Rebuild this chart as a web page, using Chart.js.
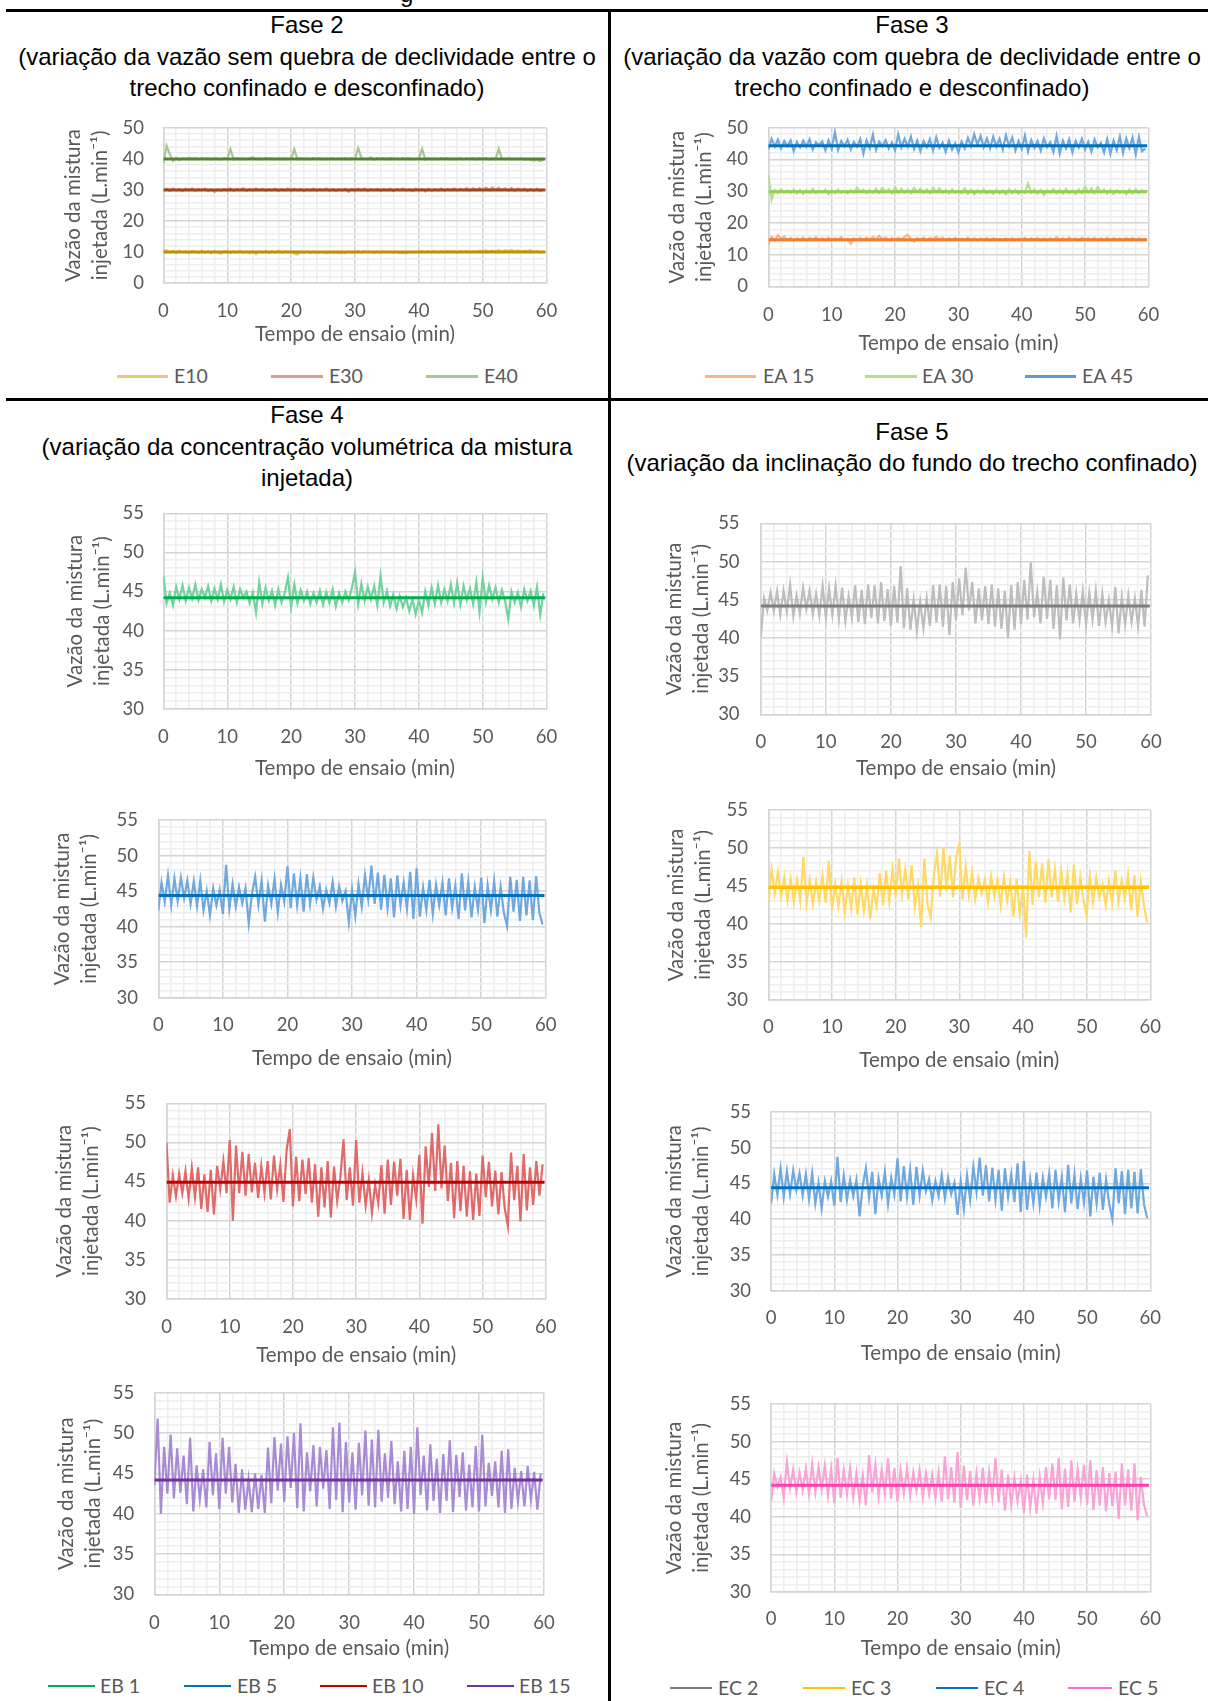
<!DOCTYPE html>
<html>
<head>
<meta charset="utf-8">
<script src="https://cdn.jsdelivr.net/npm/chart.js@4.4.1/dist/chart.umd.min.js"></script>
<style>
    body { margin: 0; width: 1208px; height: 1701px; position: relative; overflow: hidden; background: #fff; font-family: "Liberation Sans", Arial, sans-serif; }
    .traco { position: absolute; background: #000; }
    .cab { position: absolute; transform: translate(-50%, -50%); white-space: nowrap; font-size: 24px; line-height: 1; color: #000; }
    canvas { position: absolute; }
    .leg-linha { position: absolute; }
    .leg-texto { position: absolute; transform: translateY(-50%); font-family: Lato, sans-serif; font-size: 19.5px; line-height: 1; color: #595959; white-space: nowrap; }
    #recorte { position: absolute; left: 396px; top: 0; width: 30px; height: 8px; overflow: hidden; }
    #recorte span { position: absolute; left: 4px; bottom: 2px; font-size: 24px; line-height: 1; }
</style>
</head>
<body>
<div id="recorte"><span>g</span></div>
<div class="traco" style="left:6px;top:9px;width:1202px;height:3px"></div>
<div class="traco" style="left:6px;top:398px;width:1202px;height:3px"></div>
<div class="traco" style="left:608px;top:10px;width:3px;height:1691px"></div>

<div class="cab" style="left:307px;top:25px">Fase 2</div>
<div class="cab" style="left:307px;top:57px">(variação da vazão sem quebra de declividade entre o</div>
<div class="cab" style="left:307px;top:88px">trecho confinado e desconfinado)</div>
<div class="cab" style="left:912px;top:25px">Fase 3</div>
<div class="cab" style="left:912px;top:57px">(variação da vazão com quebra de declividade entre o</div>
<div class="cab" style="left:912px;top:88px">trecho confinado e desconfinado)</div>
<div class="cab" style="left:307px;top:415px">Fase 4</div>
<div class="cab" style="left:307px;top:447px">(variação da concentração volumétrica da mistura</div>
<div class="cab" style="left:307px;top:478px">injetada)</div>
<div class="cab" style="left:912px;top:432px">Fase 5</div>
<div class="cab" style="left:912px;top:463px">(variação da inclinação do fundo do trecho confinado)</div>

<script>
// tempo de ensaio (min), amostras lidas a cada 0,5 min
const tempo = [0,0.5,1,1.5,2,2.5,3,3.5,4,4.5,5,5.5,6,6.5,7,7.5,8,8.5,9,9.5,
    10,10.5,11,11.5,12,12.5,13,13.5,14,14.5,15,15.5,16,16.5,17,17.5,18,18.5,19,19.5,
    20,20.5,21,21.5,22,22.5,23,23.5,24,24.5,25,25.5,26,26.5,27,27.5,28,28.5,29,29.5,
    30,30.5,31,31.5,32,32.5,33,33.5,34,34.5,35,35.5,36,36.5,37,37.5,38,38.5,39,39.5,
    40,40.5,41,41.5,42,42.5,43,43.5,44,44.5,45,45.5,46,46.5,47,47.5,48,48.5,49,49.5,
    50,50.5,51,51.5,52,52.5,53,53.5,54,54.5,55,55.5,56,56.5,57,57.5,58,58.5,59,59.5];
const tempoMedia = [0, 59.8];
const marcasX = [0, 10, 20, 30, 40, 50, 60];
const marcasY0a50 = [0, 10, 20, 30, 40, 50];
const marcasY30a55 = [30, 35, 40, 45, 50, 55];

// Fase 2
const nomesFase2 = ['E10', 'E30', 'E40'];
const e10 = [
    10.3,10.6,9.8,10.4,9.7,10.5,9.9,10.2,9.6,10.4,
    10.1,9.7,10.5,9.8,10.3,9.6,10.4,9.9,9.5,10.3,
    10.2,9.7,10.3,9.9,10.4,9.8,10.1,9.6,10.3,9.3,
    10.2,9.8,10.4,9.7,10.3,9.9,10.5,9.8,10.2,9.9,
    10.3,9.5,9.2,10.1,9.8,10.2,9.7,10.1,9.6,9.9,
    10.1,9.6,9.9,9.7,10.0,9.6,9.9,9.7,10.1,9.8,
    10.0,10.3,9.8,10.2,9.9,10.1,9.7,10.2,9.8,10.1,
    9.9,10.2,9.8,10.1,9.6,9.9,9.6,10.0,9.8,10.1,
    10.1,10.3,9.9,10.2,10.0,10.3,9.9,10.2,10.0,10.3,
    10.1,10.4,9.9,10.3,10.1,10.4,10.0,10.3,10.1,10.5,
    10.2,10.6,10.0,10.5,10.2,10.7,10.1,10.6,10.3,10.7,
    10.2,10.6,10.1,10.5,10.3,10.6,10.0,10.3,9.9,10.2];
const e30 = [
    29.8,30.4,29.7,30.5,29.8,30.3,29.6,30.4,29.9,30.5,
    29.7,30.3,29.9,30.4,29.6,30.2,29.3,30.1,29.7,30.3,
    29.8,30.5,29.7,30.4,29.9,30.6,29.7,30.3,29.8,30.5,
    29.9,30.4,29.7,30.2,29.8,30.4,29.6,30.3,29.8,30.5,
    29.7,30.4,29.8,30.3,29.6,30.2,29.8,30.4,29.7,30.3,
    29.8,30.5,29.7,30.3,29.6,30.2,29.8,30.4,29.4,30.3,
    29.7,30.4,29.8,30.5,29.6,30.3,29.9,30.4,29.7,30.3,
    29.8,30.4,29.6,30.3,29.9,30.5,29.7,30.2,29.6,30.4,
    29.8,30.3,29.5,30.4,29.7,30.3,29.8,30.5,29.7,30.4,
    29.9,30.5,29.8,30.4,29.9,30.6,29.8,30.5,29.9,30.6,
    30.0,30.7,29.9,30.8,30.1,30.7,29.9,30.5,29.8,30.6,
    29.7,30.5,29.8,30.4,29.6,30.3,29.7,30.4,29.6,30.2];
const e40 = [
    38.5,44.2,41.5,39.3,40.2,39.6,40.1,39.8,40.3,39.9,
    40.2,39.8,40.1,39.9,40.2,39.8,40.1,40.0,39.8,40.1,
    40.0,43.1,39.8,40.2,39.9,40.1,39.8,40.2,40.5,39.9,
    40.1,39.8,40.2,39.9,40.1,39.8,40.2,39.9,40.1,39.9,
    40.1,43.0,39.8,40.2,39.9,40.1,39.8,40.2,39.9,40.1,
    39.8,40.1,39.9,40.2,39.8,40.1,39.9,40.2,39.8,40.1,
    40.0,43.5,40.3,39.9,40.1,40.4,39.8,40.2,39.9,40.1,
    39.8,40.2,39.9,40.1,39.8,40.2,39.9,40.1,39.8,40.0,
    40.1,43.2,39.8,40.2,39.9,40.1,39.8,40.2,39.9,40.1,
    39.8,40.1,39.9,40.2,39.8,40.1,39.9,40.2,39.8,40.1,
    39.9,40.2,39.8,40.1,39.9,43.2,40.0,39.8,40.1,39.9,
    40.0,39.8,40.1,39.7,39.9,39.6,39.4,39.7,39.3,39.6];
const mediasFase2 = [10, 30, 39.9];

// Fase 3
const nomesFase3 = ['EA 15', 'EA 30', 'EA 45'];
const ea15 = [
    13.2,15.6,14.5,16.2,15.1,15.8,14.6,15.3,14.4,15.2,
    14.7,15.4,14.5,15.3,14.8,15.5,14.6,15.2,14.7,15.4,
    14.5,15.2,14.8,15.5,14.6,15.0,13.4,15.1,14.6,15.3,
    14.7,15.4,14.6,15.6,14.8,16.0,14.9,15.4,14.6,15.2,
    14.7,15.3,14.8,15.6,16.3,14.9,14.1,15.2,14.7,15.4,
    14.6,15.3,14.9,15.7,14.8,15.4,14.6,15.2,14.7,15.3,
    14.5,15.1,14.7,15.3,14.6,15.2,14.5,15.1,14.7,15.2,
    14.6,15.2,14.7,15.0,14.5,15.1,14.7,15.2,14.6,15.1,
    14.7,15.3,14.6,15.2,14.8,15.3,14.6,15.1,14.5,15.2,
    14.6,15.5,14.7,15.2,14.6,15.4,14.7,15.1,14.6,15.3,
    14.7,15.2,14.8,15.3,14.6,15.2,14.7,15.3,14.6,15.2,
    14.7,15.1,14.6,15.2,14.8,15.3,14.6,15.2,14.7,15.1];
const ea30 = [
    35.2,27.3,30.4,29.4,30.6,29.6,30.3,29.5,30.5,29.3,
    30.4,29.2,30.3,29.5,30.7,29.4,30.2,29.6,30.5,29.1,
    30.3,29.4,30.6,29.5,30.2,29.3,30.4,29.6,31.2,29.8,
    30.5,29.4,30.3,29.6,30.8,29.5,31.0,29.7,30.6,29.3,
    31.3,29.5,30.8,29.6,30.5,29.4,31.0,29.7,30.8,29.5,
    30.6,29.4,31.1,29.7,30.9,29.5,30.4,29.3,30.6,29.5,
    30.2,29.4,30.9,29.2,30.4,29.0,30.3,29.4,30.6,29.3,
    30.2,29.1,30.5,29.3,30.3,29.0,30.6,29.4,30.4,29.2,
    30.1,29.5,32.4,29.6,30.5,29.2,30.4,28.8,30.3,29.5,
    30.6,29.3,30.4,29.2,30.7,29.4,30.3,29.1,30.6,29.4,
    31.5,29.6,30.9,29.4,31.3,29.6,30.6,29.3,30.4,29.1,
    30.3,29.4,30.2,29.0,30.5,29.3,30.6,29.4,30.3,29.6];
const ea45 = [
    43.2,46.5,44.0,46.2,43.5,45.8,44.2,46.0,42.6,45.5,
    43.8,45.9,44.1,46.3,43.1,45.4,44.5,45.7,42.9,46.0,
    43.4,48.6,43.0,45.8,44.1,46.2,43.2,45.5,44.0,46.4,
    41.8,46.0,43.5,47.8,43.0,45.6,44.2,46.1,43.4,45.3,
    42.9,47.9,43.8,46.5,44.0,47.2,43.3,46.0,42.6,45.8,
    43.9,46.4,42.8,47.0,43.6,45.3,42.4,45.9,43.1,45.1,
    42.2,45.6,43.5,46.8,44.2,47.9,44.6,47.4,43.8,46.6,
    43.5,47.2,44.0,46.5,43.1,47.6,44.2,46.9,42.8,45.8,
    43.3,47.5,42.5,46.1,43.6,45.8,42.8,46.6,43.9,45.4,
    42.4,47.4,41.9,45.9,43.5,46.3,42.2,45.8,43.7,46.5,
    43.1,45.6,42.5,46.3,43.8,45.2,42.2,46.4,41.8,45.9,
    43.0,47.2,42.1,46.6,43.5,46.9,41.7,47.1,42.6,43.5];
const mediasFase3 = [14.75, 29.8, 44.3];

// Fase 4
const nomesFase4 = ['EB 1', 'EB 5', 'EB 10', 'EB 15'];
const eb1 = [
    47.0,43.5,44.8,43.2,45.6,44.0,45.8,43.8,45.5,44.1,
    45.9,43.9,45.3,44.2,45.7,43.8,45.4,44.0,45.9,43.7,
    45.2,44.0,45.6,43.6,45.3,44.2,45.0,43.5,44.9,42.3,
    46.2,43.4,45.5,43.8,45.1,43.2,45.3,43.6,44.8,46.8,
    43.0,45.9,43.5,45.2,43.8,45.0,43.4,44.8,43.6,45.1,
    43.3,44.9,43.5,45.3,43.1,44.8,43.6,45.0,43.9,45.4,
    47.5,43.4,46.0,43.8,45.6,44.0,45.7,43.2,47.0,43.6,
    45.1,43.1,44.6,42.8,44.4,43.0,44.2,42.5,44.0,42.1,
    43.9,42.3,45.0,43.2,45.5,43.4,45.8,43.6,45.3,43.8,
    45.9,43.5,46.1,43.3,45.7,43.9,45.4,43.4,46.2,42.4,
    46.7,43.7,45.8,44.0,45.5,43.6,45.2,43.8,41.5,45.0,
    43.6,44.9,43.0,45.3,43.8,45.1,43.2,45.6,42.0,44.8];
const eb5 = [
    42.3,46.2,43.5,47.2,43.0,46.8,43.6,46.9,44.0,46.5,
    43.2,46.4,42.9,46.5,42.3,45.0,41.6,45.4,43.0,45.2,
    41.8,48.7,42.5,46.0,42.8,45.6,43.3,45.4,40.5,44.6,
    47.0,43.1,46.5,40.7,45.8,43.2,46.7,42.0,45.9,43.5,
    48.5,42.6,47.5,43.0,46.8,42.1,47.4,43.2,46.9,43.8,
    45.7,42.5,45.2,43.3,46.3,42.8,45.7,43.6,45.0,40.6,
    45.2,41.5,46.0,42.8,47.2,43.9,48.6,43.2,47.6,42.4,
    47.3,42.6,46.8,41.3,47.2,43.0,46.2,42.5,47.7,41.1,
    48.2,41.4,45.5,42.3,46.6,41.8,45.9,43.0,46.2,41.6,
    46.8,42.6,45.8,41.1,47.5,42.3,46.3,41.3,45.6,42.4,
    46.9,40.5,45.8,42.3,46.4,41.4,45.6,42.0,40.1,47.0,
    42.1,46.6,40.8,47.0,41.6,46.5,40.9,47.1,42.0,40.3];
const eb10 = [
    50.0,42.3,45.8,43.1,46.0,43.5,46.3,42.8,46.7,43.0,
    46.8,41.5,45.9,41.1,46.5,40.8,47.0,44.0,47.6,43.5,
    50.3,40.0,49.6,43.5,48.8,43.2,48.5,43.6,47.4,42.9,
    47.0,43.5,47.6,42.7,48.3,44.0,47.1,42.4,49.0,51.7,
    41.8,48.2,42.5,47.8,43.4,48.0,42.3,47.2,40.5,46.8,
    41.7,47.6,40.4,46.9,42.5,45.5,50.4,42.6,46.8,41.9,
    50.3,42.3,46.1,41.9,45.2,41.0,44.6,42.2,47.1,40.9,
    47.8,42.0,47.5,43.2,47.9,40.2,46.5,40.1,45.8,42.7,
    48.4,39.6,49.5,44.3,51.2,43.8,52.3,44.1,49.6,42.5,
    47.4,40.3,47.6,41.2,47.0,40.5,46.3,40.1,46.0,40.6,
    48.3,43.0,47.5,41.8,46.4,40.8,46.2,41.6,39.3,48.7,
    42.6,47.0,39.9,48.5,41.3,46.8,42.0,47.6,43.2,47.2];
const eb15 = [
    43.5,51.8,40.0,48.3,42.5,49.8,41.9,48.1,42.6,47.2,
    41.2,49.4,40.3,46.0,41.8,45.5,40.8,48.9,42.3,47.5,
    40.6,49.4,42.5,48.3,41.4,46.2,40.1,45.5,40.5,44.3,
    40.2,45.0,40.6,44.8,40.1,48.2,41.3,49.5,42.9,48.7,
    41.5,49.6,43.2,50.0,40.7,51.2,40.3,47.6,42.8,48.5,
    40.9,48.3,43.1,47.9,40.6,50.7,41.7,51.3,40.2,48.9,
    41.4,47.6,40.5,48.8,42.3,50.3,41.0,49.2,40.8,50.4,
    41.5,47.5,42.0,49.0,41.2,46.5,40.3,47.8,40.6,48.3,
    40.0,50.7,42.3,47.2,40.4,48.6,41.6,46.8,40.1,47.4,
    41.6,49.1,40.2,47.3,42.1,47.6,40.4,46.1,40.8,48.4,
    40.3,49.8,40.9,46.3,42.2,46.5,40.8,47.8,40.1,48.0,
    40.6,45.7,41.5,45.3,40.9,45.9,41.7,45.2,40.5,45.0];
const mediasFase4 = [44.2, 44.4, 44.9, 44.2];

// Fase 5
const nomesFase5 = ['EC 2', 'EC 3', 'EC 4', 'EC 5'];
const ec2 = [
    40.1,45.2,43.6,46.0,43.5,46.1,43.0,46.2,43.4,47.0,
    42.8,45.6,43.2,46.6,43.8,46.2,43.1,45.8,42.9,46.8,
    42.7,46.5,43.0,46.8,42.5,46.6,42.2,45.5,42.6,46.9,
    42.1,46.3,41.8,47.0,42.6,46.9,41.9,47.3,42.2,46.4,
    41.6,46.8,42.0,49.4,41.3,46.5,41.1,45.0,40.9,44.8,
    41.3,45.2,41.6,46.9,42.0,47.0,41.5,46.8,40.4,47.3,
    42.3,47.8,43.0,49.2,43.6,47.3,41.9,46.5,42.3,46.8,
    41.8,47.0,41.5,46.5,41.2,46.2,40.0,46.9,41.1,47.3,
    41.8,47.6,42.4,49.9,42.7,46.0,41.9,48.0,42.5,47.6,
    41.2,46.9,39.8,47.9,42.3,47.0,41.9,45.8,42.3,46.1,
    41.8,45.9,42.4,46.2,41.6,45.8,42.1,45.0,41.5,46.7,
    40.6,45.4,41.8,45.6,42.1,45.2,41.6,46.3,41.5,48.2];
const ec3 = [
    42.6,47.2,44.0,46.8,43.6,46.2,43.1,46.0,42.9,45.8,
    43.0,48.8,42.7,45.8,42.6,45.6,43.0,46.3,42.8,48.3,
    41.8,45.2,42.3,45.6,41.5,45.0,42.0,46.1,41.2,45.3,
    41.7,45.1,40.6,44.6,42.3,46.7,42.5,47.0,43.0,47.3,
    43.6,48.6,43.9,47.2,43.2,47.7,42.2,45.0,39.6,48.6,
    42.6,40.8,46.5,49.3,43.6,50.1,44.3,49.0,43.5,48.8,
    50.5,43.2,47.6,43.8,46.8,43.3,46.0,44.0,45.8,42.8,
    46.3,43.6,45.8,42.4,46.2,43.0,45.5,41.0,45.9,41.3,
    45.0,38.2,49.6,42.5,48.2,43.5,48.0,42.8,48.5,43.5,
    47.2,42.9,47.0,43.3,46.6,41.5,47.8,42.6,46.2,43.1,
    41.2,46.3,42.9,46.1,43.5,45.2,42.4,45.6,42.7,47.0,
    42.9,45.7,43.3,46.5,41.8,46.4,41.0,45.6,42.5,40.2];
const ec4 = [
    42.2,46.3,43.4,47.1,43.1,46.7,43.5,46.8,44.1,46.4,
    43.3,46.3,42.8,46.4,42.2,45.1,41.5,45.3,43.1,45.3,
    41.9,48.7,42.4,46.1,42.7,45.5,43.2,45.5,40.4,44.7,
    47.1,43.0,46.6,40.7,45.7,43.3,46.6,42.1,45.8,43.4,
    48.5,42.5,47.4,43.1,46.9,42.0,47.3,43.3,46.8,43.9,
    45.6,42.6,45.3,43.2,46.2,42.9,45.8,43.5,45.1,40.6,
    45.3,41.4,46.1,42.7,47.3,43.8,48.6,43.3,47.5,42.5,
    47.2,42.7,46.9,41.2,47.1,43.1,46.3,42.4,47.8,41.0,
    48.1,41.3,45.6,42.2,46.5,41.9,45.8,43.1,46.3,41.5,
    46.9,42.5,45.9,41.0,47.6,42.2,46.2,41.4,45.7,42.3,
    46.8,40.4,45.9,42.2,46.5,41.3,45.5,42.1,40.0,47.1,
    42.2,46.7,40.7,46.9,41.5,46.6,40.8,47.0,42.1,40.2];
const ec5 = [
    42.0,45.8,44.0,45.3,42.5,47.3,43.8,46.3,43.2,45.9,
    43.5,46.4,43.0,47.0,43.3,46.6,43.6,46.8,42.8,46.4,
    41.8,47.8,42.5,46.2,43.0,46.5,42.6,45.8,42.1,45.5,
    41.5,48.2,43.2,46.9,42.7,46.3,43.0,47.8,42.4,46.5,
    42.0,46.2,43.1,46.5,42.8,45.9,43.4,46.2,42.6,45.8,
    43.0,45.6,42.5,45.9,42.0,48.0,42.3,46.6,41.9,48.6,
    41.2,46.8,42.2,46.1,41.5,45.8,42.4,46.5,41.8,46.0,
    42.6,47.8,41.9,46.3,40.8,45.6,41.6,45.2,42.0,44.8,
    40.5,45.6,41.2,44.9,40.4,45.3,41.8,46.6,42.3,47.1,
    42.2,47.8,41.0,46.4,41.3,47.5,42.0,46.3,42.5,46.9,
    41.6,47.5,40.9,46.2,41.5,46.6,40.7,45.8,41.4,46.0,
    39.7,47.1,41.5,46.3,40.8,47.1,39.5,45.3,41.6,40.1];
const mediasFase5 = [44.2, 44.8, 44.4, 44.2];

const tituloY = ['Vazão da mistura', 'injetada (L.min⁻¹)'];
const tituloX = 'Tempo de ensaio (min)';
const cinzaTexto = '#595959';

function conjuntos(brutas, medias, coresBrutas, coresMedias) {
    const ds = [];
    medias.forEach(function (m, i) {
        ds.push({
            data: tempoMedia.map(t => ({ x: t, y: m })),
            borderColor: coresMedias[i],
            borderWidth: 3,
            order: 0
        });
    });
    brutas.forEach(function (serie, i) {
        ds.push({
            data: serie.map((v, j) => ({ x: tempo[j], y: v })),
            borderColor: coresBrutas[i],
            borderWidth: 2.2,
            order: 1
        });
    });
    return ds;
}

// caixa: [esq, dir, topo, base, fim rótulos y, centro título y, centro rótulos x, centro título x]
function grafico(caixa, datasets, yMin, yMax, yPasso, marcasY) {
    const [L, R, T, B, yLabR, yt1, xLabY, xtY] = caixa;
    const folga = 40; // espaço para o Chart.js não encolher a área do gráfico
    const cL = Math.round(yt1 - 13.5);
    const cT = Math.round(T) - folga;
    const larg = Math.round(R - cL + folga);
    const alt = Math.round(xtY + 12.5 - cT);
    const cv = document.createElement('canvas');
    cv.width = larg;
    cv.height = alt;
    cv.style.left = cL + 'px';
    cv.style.top = cT + 'px';
    cv.style.width = larg + 'px';
    cv.style.height = alt + 'px';
    document.body.appendChild(cv);

    const fonteTick = { family: 'Lato', size: 18.5 };
    const corGrade = function (ctx, passoMaior) {
        return ctx.tick && ctx.tick.value % passoMaior === 0 ? '#D4D4D4' : '#EEEEEE';
    };

    new Chart(cv.getContext('2d'), {
        type: 'line',
        data: { datasets: datasets },
        options: {
            responsive: false,
            animation: false,
            devicePixelRatio: 1,
            layout: { padding: { left: 0, top: T - cT, right: larg - (R - cL), bottom: 0 } },
            elements: { point: { radius: 0 }, line: { tension: 0 } },
            plugins: { legend: { display: false }, tooltip: { enabled: false } },
            scales: {
                x: {
                    type: 'linear',
                    min: 0,
                    max: 60,
                    ticks: {
                        stepSize: 2,
                        autoSkip: false,
                        maxRotation: 0,
                        minRotation: 0,
                        padding: xLabY - B - 11.1,
                        color: cinzaTexto,
                        font: fonteTick,
                        callback: v => marcasX.includes(v) ? String(v) : ''
                    },
                    grid: { drawTicks: false, lineWidth: 1.5, color: ctx => corGrade(ctx, 10) },
                    border: { color: '#D4D4D4', width: 1.5 },
                    title: {
                        display: true,
                        text: tituloX,
                        color: cinzaTexto,
                        padding: 0,
                        font: { family: 'Lato', size: 20.5, lineHeight: 1.2 }
                    },
                    afterFit: function (s) { s.height = xtY + 12.5 - B; }
                },
                y: {
                    min: yMin,
                    max: yMax,
                    ticks: {
                        stepSize: yPasso,
                        autoSkip: false,
                        padding: L - yLabR,
                        color: cinzaTexto,
                        font: fonteTick,
                        callback: v => marcasY.includes(v) ? String(v) : ''
                    },
                    grid: { drawTicks: false, lineWidth: 1.5, color: ctx => corGrade(ctx, marcasY[1] - marcasY[0]) },
                    border: { color: '#D4D4D4', width: 1.5 },
                    title: {
                        display: true,
                        text: tituloY,
                        color: cinzaTexto,
                        padding: 0,
                        font: { family: 'Lato', size: 20.5, lineHeight: 1.3 }
                    },
                    afterFit: function (s) { s.width = L - cL; }
                }
            }
        }
    });
}

function legenda(nomes, cores, posicoes, y, espessura) {
    nomes.forEach(function (nome, i) {
        const [x0, x1, xt] = posicoes[i];
        const linha = document.createElement('div');
        linha.className = 'leg-linha';
        linha.style.left = x0 + 'px';
        linha.style.top = (y - espessura / 2) + 'px';
        linha.style.width = (x1 - x0) + 'px';
        linha.style.height = espessura + 'px';
        linha.style.background = cores[i];
        document.body.appendChild(linha);
        const texto = document.createElement('div');
        texto.className = 'leg-texto';
        texto.style.left = xt + 'px';
        texto.style.top = y + 'px';
        texto.textContent = nome;
        document.body.appendChild(texto);
    });
}

// cores das séries (leitura bruta clara, média escura)
const brutasFase2 = ['#E5CB73', '#D4A48A', '#A8C68F'];
const linhasFase2 = ['#BF9000', '#A5431C', '#548235'];
const brutasFase3 = ['#F6B68A', '#B5DE92', '#6FA8DC'];
const linhasFase3 = ['#ED7D31', '#92D050', '#0070C0'];

grafico([163.4, 546.6, 127.7, 282.7, 144, 73.9, 311, 334],
    conjuntos([e10, e30, e40], mediasFase2, brutasFase2, linhasFase2), 0, 50, 2, marcasY0a50);
grafico([768.4, 1148.4, 127.7, 286, 748, 677.3, 314.3, 343],
    conjuntos([ea15, ea30, ea45], mediasFase3, brutasFase3, linhasFase3), 0, 50, 2, marcasY0a50);

grafico([163.4, 546.6, 513.3, 708.3, 144, 75.9, 737, 768],
    conjuntos([eb1], [mediasFase4[0]], ['#72D29C'], ['#00B050']), 30, 55, 1, marcasY30a55);
grafico([158.3, 545.8, 820, 997.3, 138, 62.2, 1025, 1058],
    conjuntos([eb5], [mediasFase4[1]], ['#6FA8DC'], ['#0070C0']), 30, 55, 1, marcasY30a55);
grafico([166.5, 545.8, 1103.3, 1298.3, 145.9, 64.2, 1327, 1355],
    conjuntos([eb10], [mediasFase4[2]], ['#E06A6A'], ['#C00000']), 30, 55, 1, marcasY30a55);
grafico([154.4, 543.9, 1392.7, 1594.3, 134.2, 66.1, 1622.7, 1648.3],
    conjuntos([eb15], [mediasFase4[3]], ['#A98BD3'], ['#7030A0']), 30, 55, 1, marcasY30a55);

grafico([760.8, 1151.1, 523.3, 714, 739.6, 674.2, 742, 768],
    conjuntos([ec2], [mediasFase5[0]], ['#BDBDBD'], ['#7F7F7F']), 30, 55, 1, marcasY30a55);
grafico([768.4, 1150.3, 810, 1000, 748, 676.1, 1027, 1060.7],
    conjuntos([ec3], [mediasFase5[1]], ['#FFD966'], ['#FFC000']), 30, 55, 1, marcasY30a55);
grafico([771.1, 1150.3, 1111.7, 1290.7, 751.1, 674.2, 1318.3, 1353.3],
    conjuntos([ec4], [mediasFase5[2]], ['#6FA8DC'], ['#0070C0']), 30, 55, 1, marcasY30a55);
grafico([771.1, 1150.3, 1404, 1591.7, 751.1, 674.2, 1619.3, 1648.3],
    conjuntos([ec5], [mediasFase5[3]], ['#F8A5D6'], ['#FF3FB4']), 30, 55, 1, marcasY30a55);

legenda(nomesFase2, brutasFase2, [[117, 168, 174], [271, 323, 329], [426, 478, 484]], 376, 3);
legenda(nomesFase3, ['#F6B68A', '#B5DE92', '#5B9BD5'], [[705, 756, 763], [865, 917, 922], [1025, 1076, 1082]], 376, 3);
legenda(nomesFase4, ['#00B050', '#0070C0', '#C00000', '#7030A0'], [[48, 95, 100], [184, 231, 237], [320, 367, 372], [467, 514, 519]], 1686, 2);
legenda(nomesFase5, ['#7F7F7F', '#FFC000', '#0070C0', '#FF66CC'], [[670, 712, 718], [803, 845, 851], [936, 978, 984], [1068, 1112, 1118]], 1688, 2);
</script>
</body>
</html>
